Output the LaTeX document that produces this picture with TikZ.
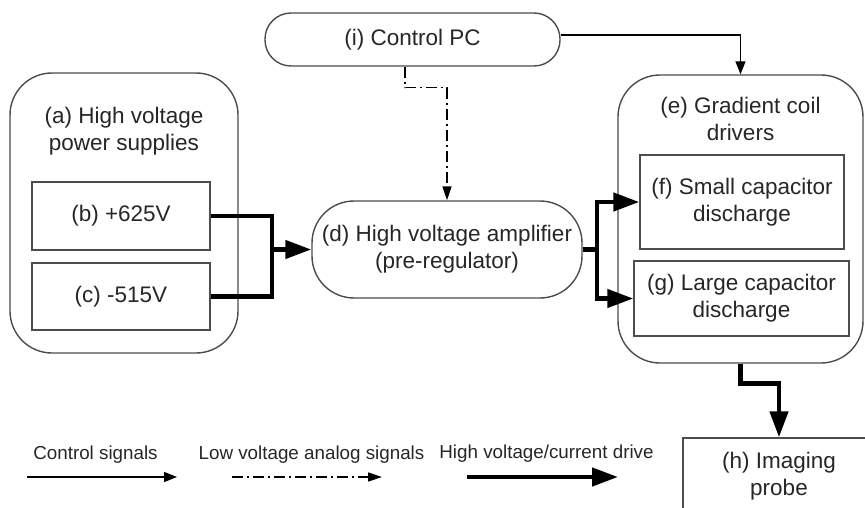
\documentclass[tikz,border=0pt]{standalone}
\usepackage{fontspec}
\setmainfont{Liberation Sans}
\usetikzlibrary{positioning,arrows.meta}
\tikzset{
  boxln/.style={draw=black!70,line width=1.4pt},
  rbox/.style={boxln,rounded corners=42pt},
  sbox/.style={boxln},
  pill/.style={boxln,rounded corners=#1},
  txt/.style={font=\fontsize{22.5}{27}\selectfont,text=black!85,align=center,inner sep=0pt},
  lgd/.style={font=\fontsize{18.8}{22}\selectfont,text=black!85,inner sep=0pt},
  ctl/.style={-{Triangle[length=13pt,width=10pt]},line width=1.4pt},   % control signal
  lowv/.style={-{Triangle[length=14pt,width=9pt]},line width=1.4pt,
    dash pattern=on 11pt off 4pt on 2pt off 4pt},                      % analog signal
  hv/.style={line width=4.5pt},                                          % drive line
  hvarr/.style={hv,-{Triangle[length=26pt,width=18pt]}},
}
\begin{document}
\begin{tikzpicture}[x=1pt,y=-1pt]
  \useasboundingbox (0,0) rectangle (865,508);
  \clip (0,0) rectangle (865,508);
  % control PC
  \node[pill=26pt,txt,minimum width=295pt,minimum height=53pt] (pc) at (412.5,39.5) {(i) Control PC};
  % supplies
  \node[rbox,minimum width=228pt,minimum height=280pt] (a) at (124,213) {};
  \node[txt,below=35pt of a.north] (atitle) {(a) High voltage\\power supplies};
  \node[sbox,txt,minimum width=178pt,minimum height=68pt] (b) at (121,216) {(b) +625V};
  \node[sbox,txt,minimum width=178pt,minimum height=67pt] (c) at (121,296.5) {(c) -515V};
  % amplifier
  \node[pill=42pt,txt,minimum width=270pt,minimum height=97pt] (d) at (447,249.5) {(d) High voltage amplifier\\(pre-regulator)};
  % drivers
  \node[rbox,minimum width=245pt,minimum height=288pt] (e) at (740.5,219) {};
  \node[txt,below=23pt of e.north] (etitle) {(e) Gradient coil\\drivers};
  \node[sbox,txt,minimum width=204pt,minimum height=94pt] (f) at (742,202) {(f) Small capacitor\\discharge};
  \node[sbox,txt,minimum width=215pt,minimum height=75pt] (g) at (741.5,298.5) {(g) Large capacitor\\discharge};
  % probe
  \node[sbox,txt,minimum width=192pt,minimum height=76pt] (h) at (779,476) {(h) Imaging\\probe};

  % connections
  \draw[ctl] ([yshift=4.5pt]pc.east) -| (e.north);
  \draw[lowv] ([xshift=-7.5pt]pc.south) -- ++(0,21) -| (d.north);
  \coordinate (jn) at (272,249.5);
  \draw[hv] (b.east) -| (jn) |- (c.east);
  \draw[hvarr] (jn) -- (d.west);
  \coordinate (sp) at (597,249.5);
  \draw[hv] (d.east) -- (sp);
  \draw[hvarr] (sp) |- (f.west);
  \draw[hvarr] (sp) |- (g.west);
  \draw[hvarr] (e.south) -- ++(0,20) -| (h.north);

  % legend
  \node[lgd] (l1) at (95.5,455) {Control signals};
  \node[lgd] (l2) at (311.5,455) {Low voltage analog signals};
  \node[lgd] (l3) at (546.5,454) {High voltage/current drive};
  \coordinate (l1a) at (27,477);  \coordinate (l1b) at (177,477);
  \coordinate (l2a) at (232,477); \coordinate (l2b) at (382,477);
  \coordinate (l3a) at (467,477); \coordinate (l3b) at (618,477);
  \draw[ctl] (l1a) -- (l1b);
  \draw[lowv] (l2a) -- (l2b);
  \draw[hvarr] (l3a) -- (l3b);
\end{tikzpicture}
\end{document}
